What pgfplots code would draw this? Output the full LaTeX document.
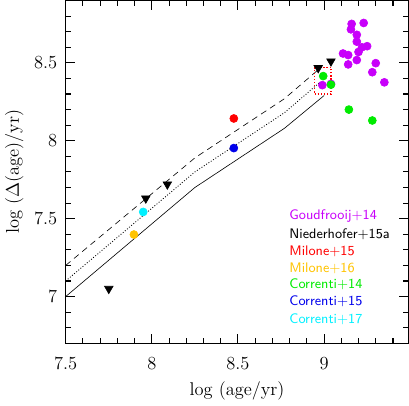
\documentclass[border=0pt]{standalone}
\usepackage{pgfplots}
\pgfplotsset{compat=1.18}
\definecolor{goud}{RGB}{200,0,250}
\definecolor{mil16}{RGB}{255,195,0}
\definecolor{cor14}{RGB}{0,235,0}
\definecolor{cor15}{RGB}{0,0,235}
\definecolor{cor17}{RGB}{0,240,255}
\begin{document}
\begin{tikzpicture}
\begin{axis}[
  scale only axis, width=223pt, height=223pt,
  xmin=7.5, xmax=9.49, ymin=6.7, ymax=8.9,
  xtick={7.5,8,8.5,9}, ytick={7,7.5,8,8.5},
  minor xtick={7.6,7.7,7.8,7.9,8.1,8.2,8.3,8.4,8.6,8.7,8.8,8.9,9.1,9.2,9.3,9.4},
  minor ytick={6.8,6.9,7.1,7.2,7.3,7.4,7.6,7.7,7.8,7.9,8.1,8.2,8.3,8.4,8.6,8.7,8.8},
  tick align=inside, major tick length=6pt, minor tick length=3.3pt,
  every tick/.style={black, line width=0.7pt},
  every minor tick/.style={black, line width=0.7pt},
  ticklabel style={font=\large},
  xticklabel style={yshift=-6pt}, yticklabel style={xshift=-2pt},
  xlabel={\large log (age/yr)}, ylabel={\large log ($\Delta$(age)/yr)},
  xlabel style={yshift=-1pt},
  clip=false,
]
% model curves
\addplot[black, thin] coordinates {(7.5,7.0) (8.25,7.70) (8.77,8.08) (9.0,8.29)};
\addplot[black, line width=0.55pt, dash pattern=on 0.6pt off 1.2pt] coordinates {(7.5,7.1) (8.25,7.80) (8.77,8.18) (8.97,8.37)};
\addplot[black, thin, dash pattern=on 4pt off 3pt] coordinates {(7.5,7.2) (8.25,7.89) (8.77,8.27) (8.96,8.45)};
% box
\addplot[red, line width=0.8pt, dash pattern=on 0.8pt off 1.2pt] coordinates {(8.945,8.30) (9.04,8.30) (9.04,8.47) (8.945,8.47) (8.945,8.30)};
% Niederhofer+15a
\addplot[only marks, mark=triangle*, mark size=3.2pt, mark options={rotate=180, fill=black}, black]
  coordinates {(7.75,7.05) (7.965,7.63) (8.09,7.72) (8.966,8.467) (9.04,8.51)};
% Goudfrooij+14
\addplot[only marks, mark=*, mark size=2.6pt, goud, mark options={fill=goud, draw=goud}]
  coordinates {(9.16,8.75) (9.23,8.756) (9.156,8.715) (9.19,8.68) (9.19,8.636)
  (9.22,8.60) (9.25,8.607) (9.20,8.57) (9.11,8.56) (9.14,8.55) (9.19,8.518)
  (9.14,8.49) (9.30,8.498) (9.28,8.44) (9.35,8.375) (8.99,8.357) (9.04,8.365)};
% Correnti+14
\addplot[only marks, mark=*, mark size=2.6pt, cor14, mark options={fill=cor14, draw=cor14}]
  coordinates {(8.995,8.415) (9.04,8.36) (9.144,8.20) (9.28,8.13)};
% Milone+15
\addplot[only marks, mark=*, mark size=2.6pt, red, mark options={fill=red, draw=red}]
  coordinates {(8.476,8.143)};
% Correnti+15
\addplot[only marks, mark=*, mark size=2.6pt, cor15, mark options={fill=cor15, draw=cor15}]
  coordinates {(8.476,7.953)};
% Milone+16
\addplot[only marks, mark=*, mark size=2.6pt, mil16, mark options={fill=mil16, draw=mil16}]
  coordinates {(7.896,7.398)};
% Correnti+17
\addplot[only marks, mark=*, mark size=2.6pt, cor17, mark options={fill=cor17, draw=cor17}]
  coordinates {(7.95,7.543)};
% labels
\begin{scope}[every node/.style={anchor=west, font=\sffamily\small, inner sep=0pt}]
\node[goud] at (axis cs:8.797,7.514) {Goudfrooij+14};
\node[black] at (axis cs:8.797,7.40) {Niederhofer+15a};
\node[red] at (axis cs:8.797,7.29) {Milone+15};
\node[mil16] at (axis cs:8.797,7.181) {Milone+16};
\node[cor14] at (axis cs:8.797,7.076) {Correnti+14};
\node[cor15] at (axis cs:8.797,6.967) {Correnti+15};
\node[cor17] at (axis cs:8.797,6.853) {Correnti+17};
\end{scope}
\end{axis}
\end{tikzpicture}
\end{document}
